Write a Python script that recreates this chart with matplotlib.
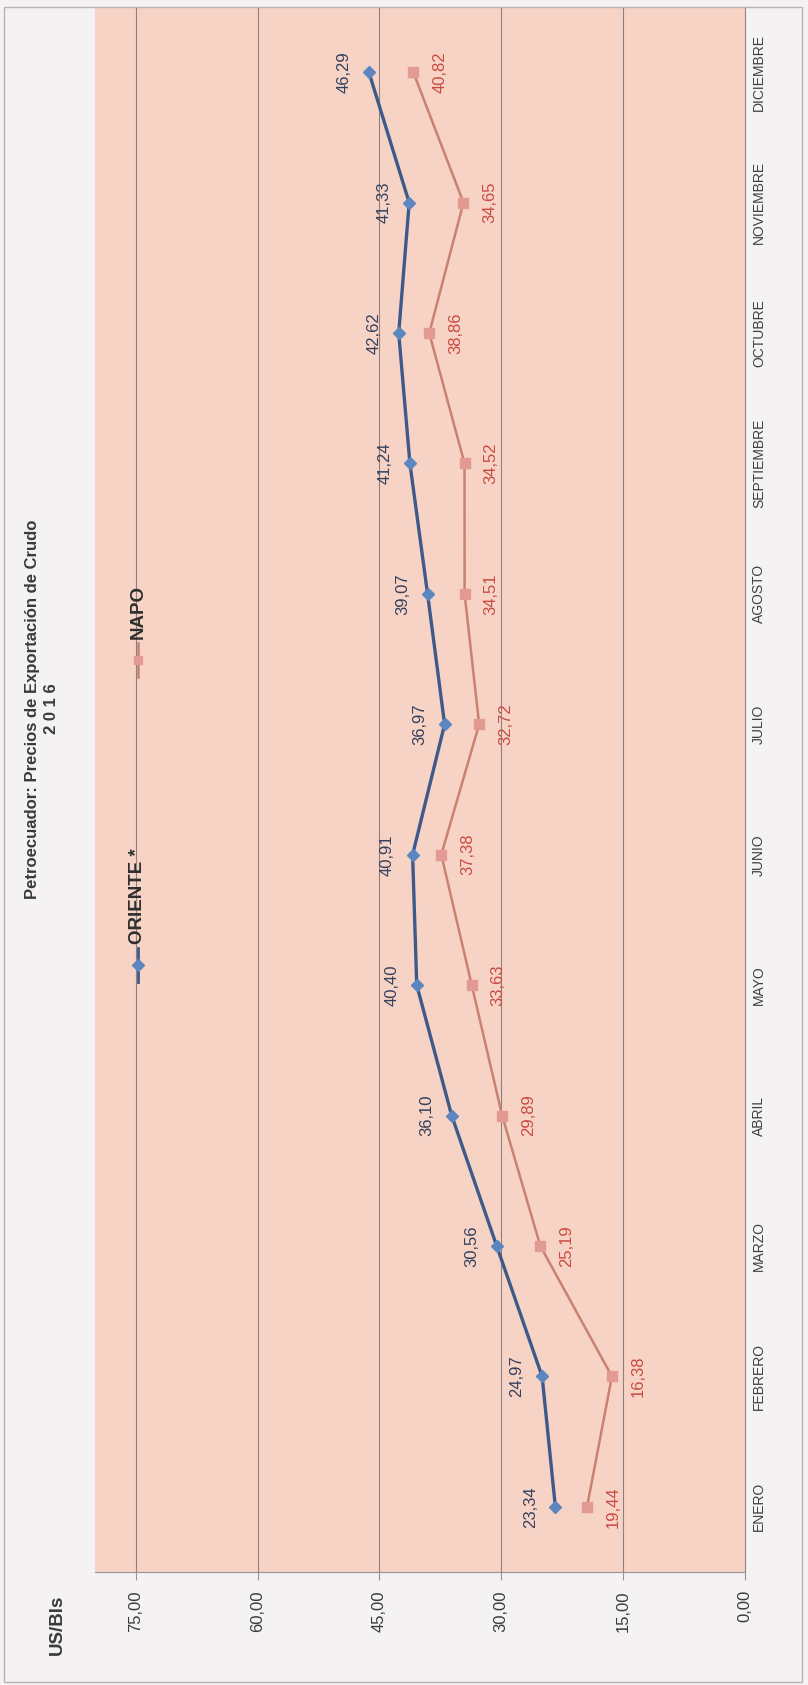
import matplotlib
matplotlib.use("Agg")
import matplotlib.pyplot as plt
from matplotlib.patches import Rectangle
from matplotlib.lines import Line2D

plt.rcParams['font.family'] = ['Liberation Sans', 'DejaVu Sans']

# ---- data ----
months = ['ENERO', 'FEBRERO', 'MARZO', 'ABRIL', 'MAYO', 'JUNIO', 'JULIO',
          'AGOSTO', 'SEPTIEMBRE', 'OCTUBRE', 'NOVIEMBRE', 'DICIEMBRE']
oriente = [23.34, 24.97, 30.56, 36.10, 40.40, 40.91, 36.97, 39.07, 41.24, 42.62, 41.33, 46.29]
napo = [19.44, 16.38, 25.19, 29.89, 33.63, 37.38, 32.72, 34.51, 34.52, 38.86, 34.65, 40.82]
value_ticks = [0, 15, 30, 45, 60, 75]
series_names = ['ORIENTE *', 'NAPO']
title_line1 = 'Petroecuador: Precios de Exportación de Crudo'
title_line2 = '2 0 1 6'
unit_label = 'US/Bls'

W, H = 808, 1685
fig = plt.figure(figsize=(W / 100, H / 100), dpi=100)
fig.patch.set_facecolor('#f4f2f3')

def fx(px):
    return px / W

def fy(py):
    return 1 - py / H

# outer frame
fig.patches.append(Rectangle((fx(4), fy(1682)), fx(802) - fx(4), fy(7) - fy(1682),
                             transform=fig.transFigure, fill=False,
                             edgecolor='#b8b4b5', linewidth=1.0))

# plot area
left, right, top, bottom = 95, 745, 7, 1572
ax = fig.add_axes([fx(left), fy(bottom), fx(right) - fx(left), fy(top) - fy(bottom)])
ax.set_facecolor('#f7d3c5')

ypos = list(range(len(months)))
ax.set_xlim(80, 0)
ax.set_ylim(-0.5, len(months) - 0.5)

for v in value_ticks[1:]:
    ax.axvline(v, color='#8a8282', linewidth=0.8, zorder=1)

blue_line = '#3d5a88'
blue_mk = '#5b86c0'
red_line = '#c98172'
red_mk = '#e39a92'

ax.plot(oriente, ypos, color=blue_line, linewidth=2.4, marker='D', markersize=6,
        markerfacecolor=blue_mk, markeredgecolor=blue_mk, zorder=3)
ax.plot(napo, ypos, color=red_line, linewidth=1.8, marker='s', markersize=6.5,
        markerfacecolor=red_mk, markeredgecolor=red_mk, zorder=3)

def fmt(v):
    return f"{v:.2f}".replace('.', ',')

for v, y in zip(oriente, ypos):
    ax.annotate(fmt(v), (v, y), xytext=(-18, 0), textcoords='offset points',
                rotation=90, ha='center', va='center', fontsize=12,
                color='#34405e', zorder=4)
for v, y in zip(napo, ypos):
    ax.annotate(fmt(v), (v, y), xytext=(19, 0), textcoords='offset points',
                rotation=90, ha='center', va='center', fontsize=12,
                color='#c94a40', zorder=4)

# axes styling
for s in ['left', 'top']:
    ax.spines[s].set_visible(False)
ax.spines['bottom'].set_color('#9a9292')
ax.spines['bottom'].set_linewidth(0.8)
ax.spines['right'].set_color('#8a8282')
ax.spines['right'].set_linewidth(0.8)

ax.set_xticks(value_ticks)
ax.set_xticklabels([fmt(v) for v in value_ticks], rotation=90, fontsize=12,
                   color='#3a3a3a')
ax.tick_params(axis='x', direction='out', length=6, width=0.8, color='#9a9292', pad=7)
ax.yaxis.tick_right()
ax.set_yticks(ypos)
ax.set_yticklabels(months, rotation=90, va='center', fontsize=10, color='#404040')
ax.tick_params(axis='y', length=0, pad=5)

# title (rotated)
fig.text(fx(33), fy(709), title_line1, rotation=90, ha='center', va='center',
         fontsize=12, fontweight='bold', color='#3a3a3a')
fig.text(fx(52), fy(709), title_line2, rotation=90, ha='center', va='center',
         fontsize=12, fontweight='bold', color='#3a3a3a')
fig.text(fx(57), fy(1625), unit_label, rotation=90, ha='center', va='center',
         fontsize=13.5, fontweight='bold', color='#3a3a3a')

# legend (rotated, drawn manually)
lx = 138
fig.lines.append(Line2D([fx(lx), fx(lx)], [fy(982), fy(948)], transform=fig.transFigure,
                        color=blue_line, linewidth=2.0))
fig.lines.append(Line2D([fx(lx)], [fy(965)], transform=fig.transFigure, marker='D',
                        markersize=6, color=blue_mk, linestyle='none'))
fig.text(fx(lx), fy(944), series_names[0], rotation=90, ha='center', va='bottom',
         fontsize=13.5, fontweight='bold', color='#2e2e2e')
fig.lines.append(Line2D([fx(lx), fx(lx)], [fy(677), fy(643)], transform=fig.transFigure,
                        color=red_line, linewidth=1.8))
fig.lines.append(Line2D([fx(lx)], [fy(660)], transform=fig.transFigure, marker='s',
                        markersize=6, color=red_mk, linestyle='none'))
fig.text(fx(lx), fy(639), series_names[1], rotation=90, ha='center', va='bottom',
         fontsize=13.5, fontweight='bold', color='#2e2e2e')

fig.savefig('out.png', dpi=100, facecolor=fig.get_facecolor())
